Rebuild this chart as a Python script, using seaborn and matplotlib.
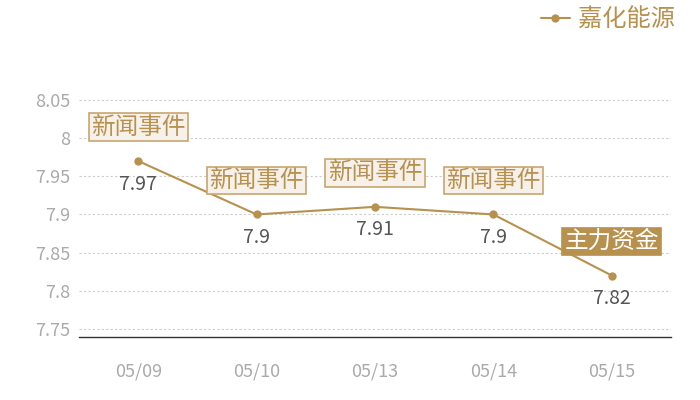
import pandas as pd
import seaborn as sns
import matplotlib.pyplot as plt

dates = ["05/09", "05/10", "05/13", "05/14", "05/15"]
prices = [7.97, 7.9, 7.91, 7.9, 7.82]
value_labels = ["7.97", "7.9", "7.91", "7.9", "7.82"]
events = ["新闻事件", "新闻事件", "新闻事件", "新闻事件", "主力资金"]
series_name = "嘉化能源"
y_ticks = [7.75, 7.8, 7.85, 7.9, 7.95, 8.0, 8.05]
y_tick_labels = ["7.75", "7.8", "7.85", "7.9", "7.95", "8", "8.05"]

gold = "#b8914e"
light_face = "#f6f1ea"
light_edge = "#c9a66e"

sns.set_theme(style="white")
plt.rcParams["font.family"] = ["Noto Sans CJK SC", "DejaVu Sans"]

df = pd.DataFrame({"date": dates, "price": prices, "x": range(len(dates))})

fig = plt.figure(figsize=(7, 4), dpi=100)
ax = fig.add_axes([79 / 700, 1 - 337 / 400, 592 / 700, 275 / 400])

sns.lineplot(data=df, x="x", y="price", ax=ax, color=gold, linewidth=1.5,
             marker="o", markersize=6, markeredgewidth=0, label=series_name)

ax.set_xlim(-0.5, len(dates) - 0.5)
ax.set_ylim(7.7395, 8.0997)
ax.set_xticks(range(len(dates)))
ax.set_xticklabels(dates)
ax.set_yticks(y_ticks)
ax.set_yticklabels(y_tick_labels)
ax.tick_params(axis="both", length=0, labelsize=13, colors="#aaaaaa")
ax.tick_params(axis="x", pad=18)
ax.tick_params(axis="y", pad=6)
ax.set_xlabel("")
ax.set_ylabel("")
ax.grid(axis="y", linestyle=(0, (2, 2)), color="#cccccc", linewidth=0.8)
for s in ["top", "right", "left"]:
    ax.spines[s].set_visible(False)
ax.spines["bottom"].set_color("#333333")
ax.spines["bottom"].set_linewidth(1)

for i, (p, lab, ev) in enumerate(zip(prices, value_labels, events)):
    ax.annotate(lab, (i, p), xytext=(0, -23), textcoords="offset pixels",
                ha="center", va="center", fontsize=14, color="#555555")
    if ev == "主力资金":
        fc, ec, tc = gold, gold, "white"
    else:
        fc, ec, tc = light_face, light_edge, gold
    ax.annotate(ev, (i, p), xytext=(0, 34), textcoords="offset pixels",
                ha="center", va="center", fontsize=17, color=tc,
                bbox=dict(boxstyle="square,pad=0.1", fc=fc, ec=ec, lw=1.2),
                annotation_clip=False)

leg = ax.legend(loc="upper right", bbox_to_anchor=(1 + 14 / 592, 1 + 65 / 275),
                frameon=False, fontsize=17.5, handlelength=1.2,
                handletextpad=0.35, borderaxespad=0)
for t in leg.get_texts():
    t.set_color(gold)

fig.savefig("out.png", dpi=100)
